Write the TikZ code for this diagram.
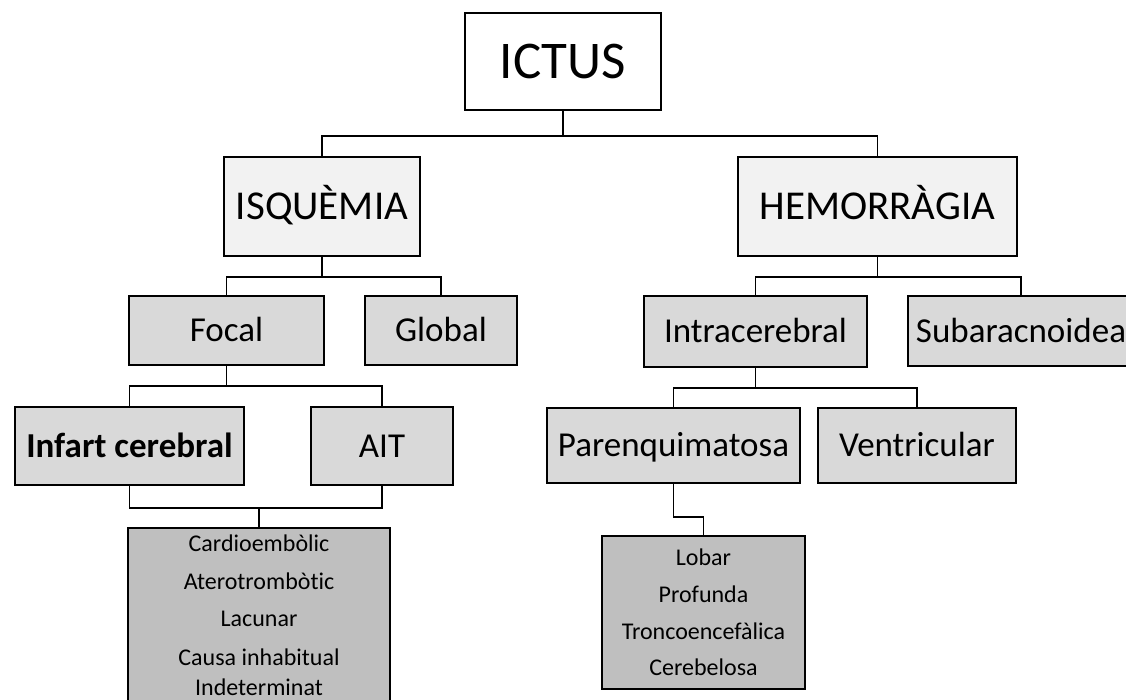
\documentclass[tikz,border=0pt]{standalone}
\usepackage{fontspec}
\setmainfont{Carlito}[Ligatures=NoCommon]
\usepackage{tikz}

\definecolor{topfill}{HTML}{FFFFFF}
\definecolor{lvlone}{HTML}{F2F2F2}
\definecolor{lvltwo}{HTML}{D9D9D9}
\definecolor{lvllist}{HTML}{BFBFBF}

\tikzset{
    box/.style={draw=black,line width=1.6pt,inner sep=0pt,align=center,text depth=0pt},
    bigtxt/.style={font=\fontsize{53}{60}\selectfont,text height=34.1pt},
    midtxt/.style={font=\fontsize{41}{48}\selectfont,text height=26.4pt},
    subtxt/.style={font=\fontsize{35}{40}\selectfont,text height=22.5pt},
    txt/.style={inner sep=0pt,font=\fontsize{24}{28}\selectfont,text height=15.5pt,text depth=0pt}
}

\begin{document}
\begin{tikzpicture}
            [x=1pt,y=-1pt,line width=1.6pt]
            \useasboundingbox (0,0) rectangle (1126,700);
            \clip (0,0) rectangle (1126,700);
            \node[box,bigtxt,fill=topfill,minimum width=196pt,minimum height=97pt] (ictus) at (563,61.5) {ICTUS};
            \node[box,midtxt,fill=lvlone,minimum width=196pt,minimum height=99pt] (isq) at (322,206.5) {ISQUÈMIA};
            \node[box,midtxt,fill=lvlone,minimum width=279pt,minimum height=99pt] (hem) at (877.5,206.5) {HEMORRÀGIA};
            
            \node[box,subtxt,fill=lvltwo,minimum width=195pt,minimum height=69pt] (focal) at (226.5,330.5) {Focal};
            \node[box,subtxt,fill=lvltwo,minimum width=152pt,minimum height=69pt] (global) at (441,330.5) {Global};
            \node[box,subtxt,fill=lvltwo,minimum width=223pt,minimum height=71pt] (intra) at (755.5,331.5) {Intracerebral};
            \node[box,subtxt,fill=lvltwo,minimum width=226pt,minimum height=70pt] (subar) at (1021,331) {Subaracnoidea};
            
            \node[box,subtxt,fill=lvltwo,minimum width=229pt,minimum height=78pt,font=\fontsize{35}{40}\selectfont\bfseries] (infart) at (129.5,446) {Infart cerebral};
            \node[box,subtxt,fill=lvltwo,minimum width=142pt,minimum height=78pt] (ait) at (382,446) {AIT};
            \node[box,subtxt,fill=lvltwo,minimum width=253pt,minimum height=75pt] (paren) at (673.5,445.5) {Parenquimatosa};
            \node[box,subtxt,fill=lvltwo,minimum width=198pt,minimum height=75pt] (ventr) at (917,445.5) {Ventricular};
            
            % subtypes
            \node[box,fill=lvllist,minimum width=262pt,minimum height=200pt] (causes) at (259,628) {};
            \node[txt] (c1) at (259,544) {Cardioembòlic};
            \node[txt] (c2) at (259,582) {Aterotrombòtic};
            \node[txt] (c3) at (259,619) {Lacunar};
            \node[txt] (c4) at (259,658) {Causa inhabitual};
            \node[txt] (c5) at (259,688) {Indeterminat};
            
            \node[box,fill=lvllist,minimum width=203pt,minimum height=153pt] (locs) at (703.5,612.5) {};
            \node[txt] (l1) at (703.5,558) {Lobar};
            \node[txt] (l2) at (703.5,595) {Profunda};
            \node[txt] (l3) at (703.5,632) {Troncoencefàlica};
            \node[txt] (l4) at (703.5,668) {Cerebelosa};
            
            % tree
            \draw (ictus.south) -- ++(0,25) -| (isq.north);
            \draw (ictus.south) -- ++(0,25) -| (hem.north);
            \draw (isq.south) -- ++(0,20) -| (focal.north);
            \draw (isq.south) -- ++(0,20) -| (global.north);
            \draw (hem.south) -- ++(0,20) -| (intra.north);
            \draw (hem.south) -- ++(0,20) -| (subar.north);
            \draw (focal.south) -- ++(0,20) -| (infart.north);
            \draw (focal.south) -- ++(0,20) -| (ait.north);
            \draw (intra.south) -- ++(0,20) -| (paren.north);
            \draw (intra.south) -- ++(0,20) -| (ventr.north);
            \draw (infart.south) -- ++(0,22) -| (ait.south);
            \draw (causes.north) -- ++(0,-20);
            \draw (paren.south) -- ++(0,33) -| (locs.north);
        \end{tikzpicture}
\end{document}
